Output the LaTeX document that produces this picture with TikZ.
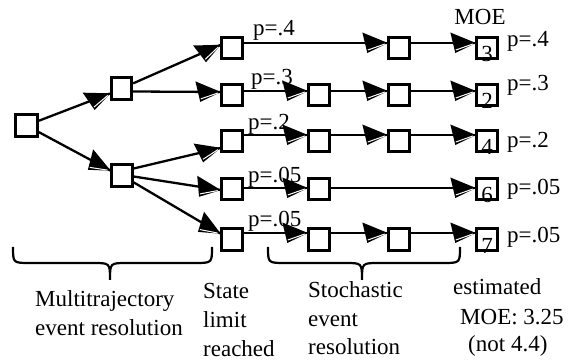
\documentclass[tikz,border=0pt]{standalone}
\usepackage{fontspec}
\setmainfont{Liberation Serif}
\usetikzlibrary{calc,decorations.markings}
\begin{document}
\begin{tikzpicture}[x=1pt,y=-1pt,
  font=\fontsize{23}{28}\selectfont,
  box/.style={draw,line width=2.8pt,fill=white,minimum width=20.5pt,minimum height=21.5pt,inner sep=0pt},
  % connector: shaft plus a hand-drawn wedge head with a light streak
  flow/.style={line width=2.3pt,
    postaction={decorate},
    decoration={markings,mark=at position -0.01pt with {
      \fill[black] (0.6pt,0pt) -- (-25pt,10.5pt) -- (-20pt,-10pt) -- cycle;
      \draw[white,line width=1pt] (-19.5pt,-7pt) -- (-2.5pt,-1pt);}}},
  lbl/.style={anchor=base west,inner sep=0pt},
  digit/.style={anchor=base,inner sep=0pt},
  curly/.style={line width=2.2pt}]
\useasboundingbox (0,0) rectangle (579,363);

% tree of outcomes
\node[box,minimum width=22pt,minimum height=22pt] (root) at (26.5,125.5) {};
\node[box,minimum height=22.5pt] (up) at (121.5,88.5) {};
\node[box] (lo) at (122,175.5) {};

% state-limit column and stochastic columns
\node[box] (a1) at (232,48) {};
\node[box] (c1) at (399,48) {};
\node[box] (m1) at (487,48) {};

\node[box] (a2) at (232,95) {};
\node[box] (b2) at (319,95) {};
\node[box] (c2) at (399,95) {};
\node[box] (m2) at (487,95) {};

\node[box] (a3) at (232,141) {};
\node[box] (b3) at (319,141) {};
\node[box] (c3) at (399,141) {};
\node[box] (m3) at (487,141) {};

\node[box] (a4) at (232,189) {};
\node[box] (b4) at (319,189) {};
\node[box] (m4) at (487,189) {};

\node[box] (a5) at (232,239.5) {};
\node[box] (b5) at (319,239.5) {};
\node[box] (c5) at (399,239.5) {};
\node[box] (m5) at (487,239.5) {};

% multitrajectory branching
\draw[flow] (root) -- ($(up.west)+(0,5)$);
\draw[flow] (root) -- ($(lo.west)+(0,-5)$);
\draw[flow] (up) -- ($(a1.west)+(0,-3)$);
\draw[flow] ($(up.east)+(0,3)$) -- ($(a2.west)+(0,-3)$);
\draw[flow] ($(lo.east)+(0,-7)$) -- ($(a3.west)+(0,7)$);
\draw[flow] ($(lo.east)+(0,1)$) -- ($(a4.west)+(0,1)$);
\draw[flow] (lo) -- ($(a5.west)+(0,-6)$);

% stochastic chains
\draw[flow] ($(a1.east)+(0,-5)$) -- ($(c1.west)+(0,-5)$);
\draw[flow] ($(c1.east)+(0,-5)$) -- ($(m1.west)+(0,-5)$);

\draw[flow] ($(a2.east)+(0,-4)$) -- ($(b2.west)+(0,-4)$);
\draw[flow] ($(b2.east)+(0,-4)$) -- ($(c2.west)+(0,-4)$);
\draw[flow] ($(c2.east)+(0,-4)$) -- ($(m2.west)+(0,-4)$);

\draw[flow] ($(a3.east)+(0,-6)$) -- ($(b3.west)+(0,-6)$);
\draw[flow] ($(b3.east)+(0,-6)$) -- ($(c3.west)+(0,-6)$);
\draw[flow] ($(c3.east)+(0,-6)$) -- ($(m3.west)+(0,-6)$);

\draw[flow] ($(a4.east)+(0,-1)$) -- ($(b4.west)+(0,-1)$);
\draw[flow] ($(b4.east)+(0,-1)$) -- ($(m4.west)+(0,-1)$);

\draw[flow] ($(a5.east)+(0,-6.5)$) -- ($(b5.west)+(0,-6.5)$);
\draw[flow] ($(b5.east)+(0,-6.5)$) -- ($(c5.west)+(0,-6.5)$);
\draw[flow] ($(c5.east)+(0,-6.5)$) -- ($(m5.west)+(0,-6.5)$);

% MOE values inside the final boxes
\node[digit] (v1) at ($(m1.south)+(0,1.5)$) {3};
\node[digit] (v2) at ($(m2.south)+(0,1.5)$) {2};
\node[digit] (v3) at ($(m3.south)+(0,1.5)$) {4};
\node[digit] (v4) at ($(m4.south)+(0,1.5)$) {6};
\node[digit] (v5) at ($(m5.south)+(0,1.5)$) {7};
\node[digit] (moehead) at (480,25) {MOE};

% branch probabilities
\node[lbl] (p1) at (253,36) {p=.4};
\node[lbl] (p2) at (251,85) {p=.3};
\node[lbl] (p3) at (248,129.5) {p=.2};
\node[lbl] (p4) at (248,183) {p=.05};
\node[lbl] (p5) at (248,227) {p=.05};

\node[lbl] (q1) at (507,47) {p=.4};
\node[lbl] (q2) at (507,91) {p=.3};
\node[lbl] (q3) at (507,148) {p=.2};
\node[lbl] (q4) at (507,195) {p=.05};
\node[lbl] (q5) at (507,243) {p=.05};

% braces under the two phases
\draw[curly] (13,247) .. controls (13,263) .. (30,263) -- (93,263)
  .. controls (110,263) .. (110,280) .. controls (110,263) .. (127,263)
  -- (195,263) .. controls (212,263) .. (212,247);
\draw[curly] (268,247) .. controls (268,263) .. (285,263) -- (345,263)
  .. controls (362,263) .. (362,280) .. controls (362,263) .. (379,263)
  -- (443,263) .. controls (460,263) .. (460,247);

% captions
\node[lbl] (t1) at (35,307) {Multitrajectory};
\node[lbl] (t2) at (35,336) {event resolution};
\node[lbl] (s1) at (203,299) {State};
\node[lbl] (s2) at (203,328) {limit};
\node[lbl] (s3) at (203,357) {reached};
\node[lbl] (r1) at (308,298) {Stochastic};
\node[lbl] (r2) at (308,327) {event};
\node[lbl] (r3) at (308,355) {resolution};
\node[lbl] (e1) at (453,295) {estimated};
\node[lbl] (e2) at (460,325) {MOE: 3.25};
\node[lbl] (e3) at (468,352) {(not 4.4)};
\end{tikzpicture}
\end{document}
